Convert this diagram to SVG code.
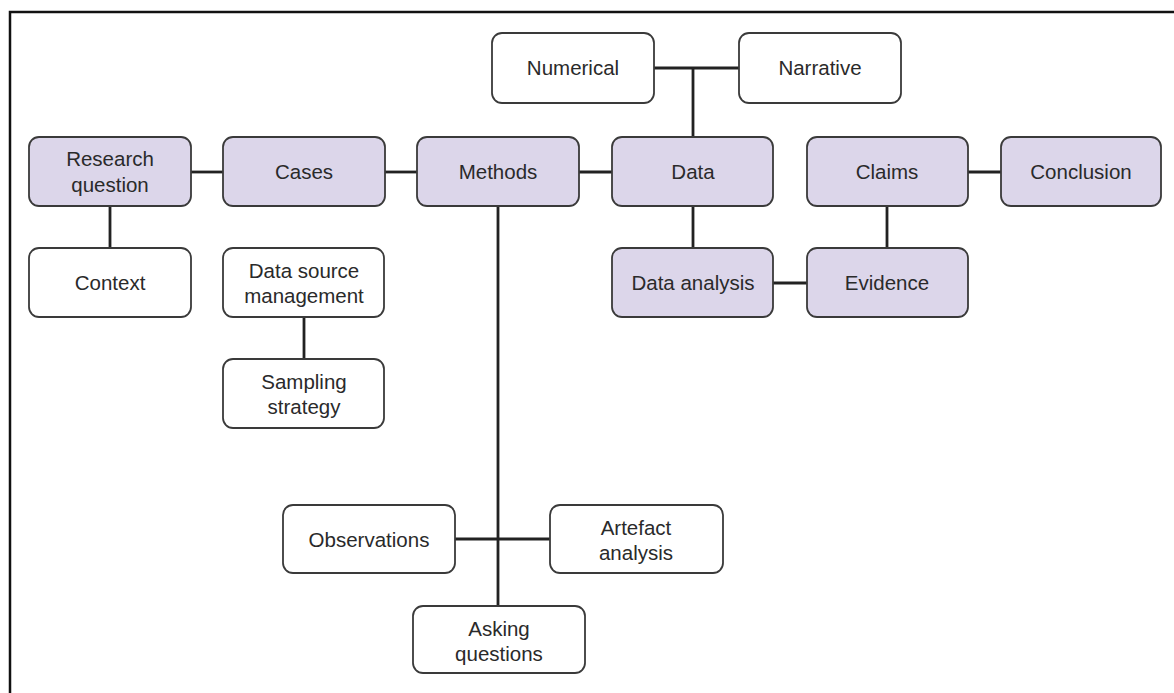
<svg xmlns="http://www.w3.org/2000/svg" width="1174" height="693" viewBox="0 0 1174 693">
<style>
.frame{fill:none;stroke:#111;stroke-width:2.5}
.box{fill:#fff;stroke:#3a3a3a;stroke-width:1.8}
.core{fill:#dcd6ea;stroke:#3a3a3a;stroke-width:1.8}
.lbl{font-family:"Liberation Sans",Arial,sans-serif;font-size:20.5px;fill:#2a2a2a;text-anchor:middle}
.con{stroke:#222;stroke-width:2.8;fill:none}
</style>
<rect width="1174" height="693" fill="#fff"/>
<rect class="frame" x="10" y="12" width="1180" height="700"/>
<g id="connectors">
<line class="con" x1="191" y1="172" x2="223" y2="172"/>
<line class="con" x1="385" y1="172" x2="417" y2="172"/>
<line class="con" x1="579" y1="172" x2="612" y2="172"/>
<line class="con" x1="968" y1="172" x2="1001" y2="172"/>
<line class="con" x1="110" y1="206" x2="110" y2="248"/>
<line class="con" x1="304" y1="317" x2="304" y2="359"/>
<line class="con" x1="654" y1="68" x2="739" y2="68"/>
<line class="con" x1="693" y1="68" x2="693" y2="137"/>
<line class="con" x1="693" y1="207" x2="693" y2="248"/>
<line class="con" x1="887" y1="207" x2="887" y2="248"/>
<line class="con" x1="773" y1="283" x2="807" y2="283"/>
<line class="con" x1="498" y1="207" x2="498" y2="606"/>
<line class="con" x1="455" y1="539" x2="550" y2="539"/>
</g>
<g id="research-question"><rect class="core" x="29" y="137" width="162" height="69" rx="10"/><text class="lbl" x="110" y="166">Research</text><text class="lbl" x="110" y="192">question</text></g>
<g id="cases"><rect class="core" x="223" y="137" width="162" height="69" rx="10"/><text class="lbl" x="304" y="179">Cases</text></g>
<g id="methods"><rect class="core" x="417" y="137" width="162" height="69" rx="10"/><text class="lbl" x="498" y="179">Methods</text></g>
<g id="data"><rect class="core" x="612" y="137" width="161" height="69" rx="10"/><text class="lbl" x="693" y="179">Data</text></g>
<g id="claims"><rect class="core" x="807" y="137" width="161" height="69" rx="10"/><text class="lbl" x="887" y="179">Claims</text></g>
<g id="conclusion"><rect class="core" x="1001" y="137" width="160" height="69" rx="10"/><text class="lbl" x="1081" y="179">Conclusion</text></g>
<g id="numerical"><rect class="box" x="492" y="33" width="162" height="70" rx="10"/><text class="lbl" x="573" y="75">Numerical</text></g>
<g id="narrative"><rect class="box" x="739" y="33" width="162" height="70" rx="10"/><text class="lbl" x="820" y="75">Narrative</text></g>
<g id="context"><rect class="box" x="29" y="248" width="162" height="69" rx="10"/><text class="lbl" x="110" y="290">Context</text></g>
<g id="data-source-management"><rect class="box" x="223" y="248" width="161" height="69" rx="10"/><text class="lbl" x="304" y="278">Data source</text><text class="lbl" x="304" y="303">management</text></g>
<g id="sampling-strategy"><rect class="box" x="223" y="359" width="161" height="69" rx="10"/><text class="lbl" x="304" y="389">Sampling</text><text class="lbl" x="304" y="414">strategy</text></g>
<g id="data-analysis"><rect class="core" x="612" y="248" width="161" height="69" rx="10"/><text class="lbl" x="693" y="290">Data analysis</text></g>
<g id="evidence"><rect class="core" x="807" y="248" width="161" height="69" rx="10"/><text class="lbl" x="887" y="290">Evidence</text></g>
<g id="observations"><rect class="box" x="283" y="505" width="172" height="68" rx="10"/><text class="lbl" x="369" y="547">Observations</text></g>
<g id="artefact-analysis"><rect class="box" x="550" y="505" width="173" height="68" rx="10"/><text class="lbl" x="636" y="535">Artefact</text><text class="lbl" x="636" y="560">analysis</text></g>
<g id="asking-questions"><rect class="box" x="413" y="606" width="172" height="67" rx="10"/><text class="lbl" x="499" y="636">Asking</text><text class="lbl" x="499" y="661">questions</text></g>
</svg>
